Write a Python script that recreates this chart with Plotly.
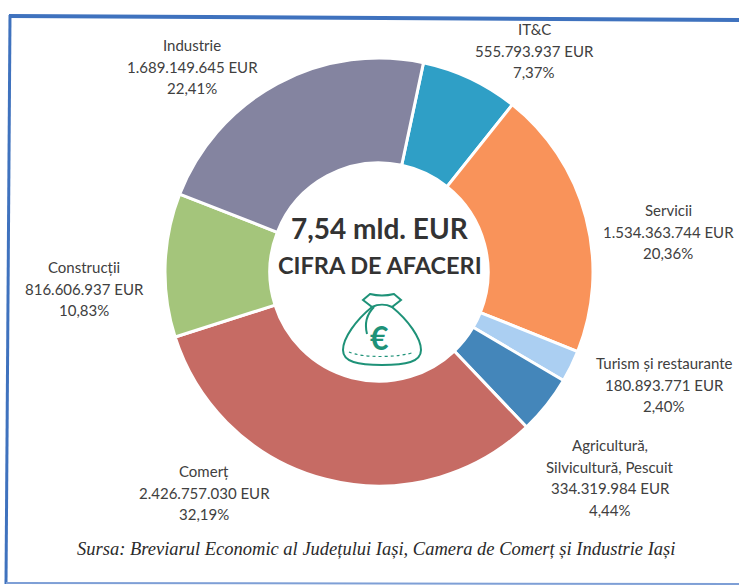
import plotly.graph_objects as go

W, H = 739, 585

categories = ["IT&C", "Servicii", "Turism și restaurante", "Agricultură, Silvicultură, Pescuit",
              "Comerț", "Construcții", "Industrie"]
values = [555793937, 1534363744, 180893771, 334319984, 2426757030, 816606937, 1689149645]
amount_labels = ["555.793.937 EUR", "1.534.363.744 EUR", "180.893.771 EUR", "334.319.984 EUR",
                 "2.426.757.030 EUR", "816.606.937 EUR", "1.689.149.645 EUR"]
percent_labels = ["7,37%", "20,36%", "2,40%", "4,44%", "32,19%", "10,83%", "22,41%"]
label_names = [["IT&C"], ["Servicii"], ["Turism și restaurante"], ["Agricultură,", "Silvicultură, Pescuit"],
               ["Comerț"], ["Construcții"], ["Industrie"]]

colors = ["#2F9FC6", "#F9935A", "#ABCFF2", "#4486BA", "#C66B64", "#A4C57B", "#8484A0"]
label_center_x = [534, 668, 664, 610, 204, 84, 192]
label_first_y = [29, 210, 363, 445, 471, 267, 45]
LINE_STEP = 21.6

px = lambda x: x / W
py = lambda y: 1 - y / H


def path(points):
    out = []
    for cmd, *coords in points:
        out.append(cmd + " " + " ".join(
            f"{px(c[0]):.5f},{py(c[1]):.5f}" for c in coords))
    return " ".join(out)


fig = go.Figure(go.Pie(
    values=values, labels=categories, sort=False, direction="clockwise", rotation=12,
    hole=0.51, textinfo="none", showlegend=False,
    marker=dict(colors=colors, line=dict(color="white", width=3)),
    domain=dict(x=[px(165), px(593)], y=[py(486), py(58)]),
))

annotations = []
for name, amt, pct, x, y0 in zip(label_names, amount_labels, percent_labels, label_center_x, label_first_y):
    for i, line in enumerate(name + [amt, pct]):
        annotations.append(dict(
            x=px(x), y=py(y0 + i * LINE_STEP), xref="paper", yref="paper", showarrow=False,
            xanchor="center", yanchor="middle", text=line,
            font=dict(family="Lato", size=15, color="#404040"),
        ))
annotations += [
    dict(x=px(380), y=py(228), xref="paper", yref="paper", showarrow=False,
         text="<b>7,54 mld. EUR</b>", font=dict(family="Lato", size=28, color="#333333")),
    dict(x=px(380), y=py(265), xref="paper", yref="paper", showarrow=False,
         text="<b>CIFRA DE AFACERI</b>", font=dict(family="Lato", size=23.5, color="#333333")),
    dict(x=px(379), y=py(337), xref="paper", yref="paper", showarrow=False,
         text="<b>€</b>", font=dict(family="Lato", size=32, color="#1E9278")),
    dict(x=px(376), y=py(561), xref="paper", yref="paper", showarrow=False,
         text="<i>Sursa: Breviarul Economic al Județului Iași, Camera de Comerț și Industrie Iași</i>",
         font=dict(family="Liberation Serif", size=18.5, color="#2a2a2a")),
]

GREEN = "#1E9278"
bag_body = path([
    ("M", (372, 307)),
    ("C", (356, 320), (343, 338), (343, 350)),
    ("C", (343, 362), (358, 365), (382, 365)),
    ("C", (406, 365), (421, 362), (421, 350)),
    ("C", (421, 338), (408, 320), (392, 307)),
])
bag_knot = path([
    ("M", (372, 307)),
    ("L", (363, 300)),
    ("L", (370, 294)),
    ("C", (378, 296), (386, 296), (394, 294)),
    ("L", (401, 300)),
    ("L", (392, 307)),
    ("C", (386, 304), (378, 304), (372, 307)),
])
bag_cord = path([
    ("M", (374, 307)),
    ("C", (367, 314), (364, 322), (367, 334)),
])
bag_seam = path([
    ("M", (349, 352)),
    ("C", (362, 358), (400, 358), (414, 352)),
])

shapes = [
    dict(type="path", xref="paper", yref="paper", path=p,
         line=dict(color=GREEN, width=2), fillcolor="rgba(0,0,0,0)")
    for p in (bag_body, bag_knot, bag_cord)
]
shapes.append(dict(type="path", xref="paper", yref="paper", path=bag_seam,
                   line=dict(color=GREEN, width=1.2, dash="dot"), fillcolor="rgba(0,0,0,0)"))
shapes += [
    dict(type="line", xref="paper", yref="paper", x0=px(9), y0=py(16), x1=1, y1=py(20),
         line=dict(color="#3F72BE", width=4)),
    dict(type="line", xref="paper", yref="paper", x0=px(10), y0=py(15), x1=px(6), y1=py(584),
         line=dict(color="#3F72BE", width=3)),
    dict(type="line", xref="paper", yref="paper", x0=px(6), y0=py(583), x1=1, y1=py(584),
         line=dict(color="#7E9FD6", width=2)),
]

fig.update_layout(width=W, height=H, margin=dict(l=0, r=0, t=0, b=0),
                  paper_bgcolor="white", annotations=annotations, shapes=shapes)
fig.write_html("out.html", config={"displayModeBar": False},
               post_script="document.body.style.margin='0';")
